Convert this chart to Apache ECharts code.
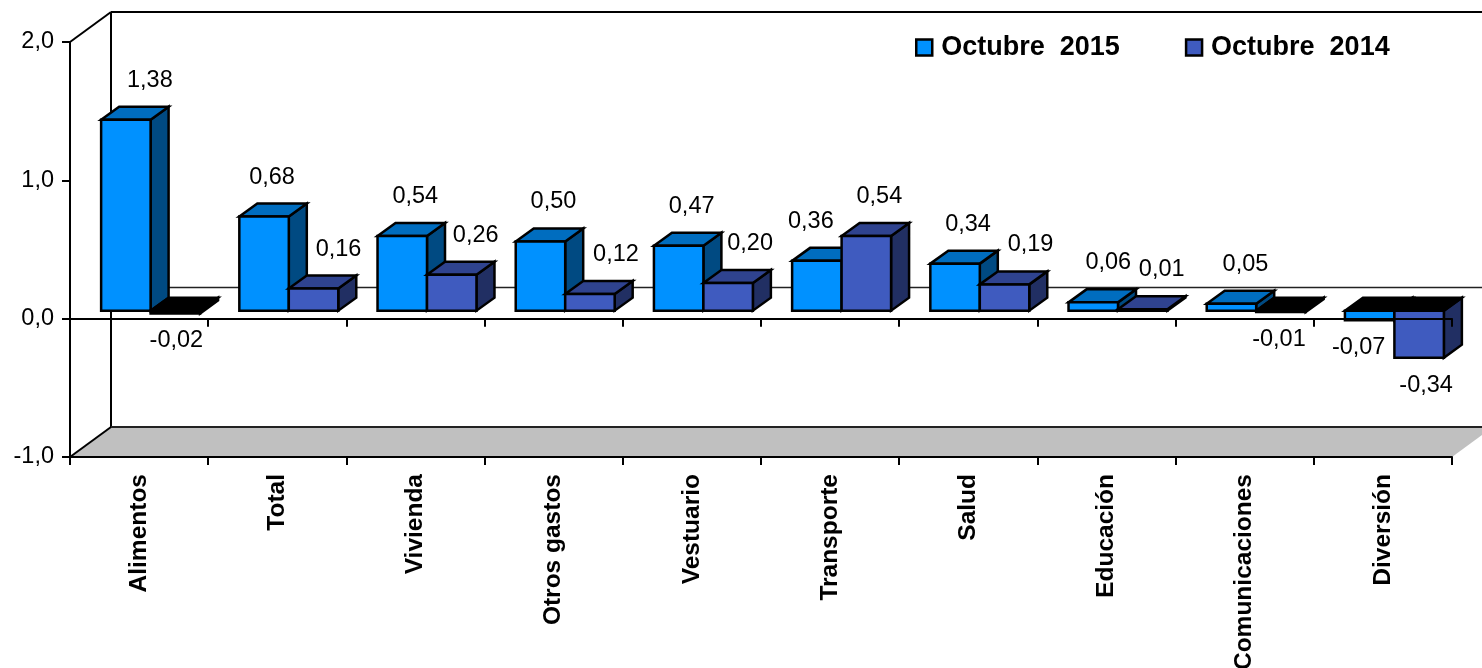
<!DOCTYPE html>
<html>
<head>
<meta charset="utf-8">
<style>html,body{margin:0;padding:0;background:#fff}#c{width:1482px;height:668px}</style>
<script src="https://cdn.jsdelivr.net/npm/echarts@6/dist/echarts.min.js"></script>
</head>
<body>
<div id="c"></div>
<script>
const categories = ['Alimentos','Total','Vivienda','Otros gastos','Vestuario','Transporte','Salud','Educación','Comunicaciones','Diversión'];
const octubre2015 = [1.38,0.68,0.54,0.50,0.47,0.36,0.34,0.06,0.05,-0.07];
const octubre2014 = [-0.02,0.16,0.26,0.12,0.20,0.54,0.19,0.01,-0.01,-0.34];
const seriesNames = ['Octubre  2015','Octubre  2014'];
// hand-placed data label nudges (px from bar centre), as in the original
const labelNudge2015 = [25,9,14,14,14,-5,14,16,15,-10];
const labelNudge2014 = [1,25,24,26,22,13,26,19,-2,7];

const FONT = '"Liberation Sans", Arial, sans-serif';
const WALL = {dx:41, dy:-30};
const BAR_SPLIT = 11.5, BAR_LIFT = -8;
const BAR_DEPTH = {dx:18, dy:-13};
const STROKE = {stroke:'#000', lineWidth:2.5, lineJoin:'miter'};
const COL2015 = {front:'#0091FF', top:'#006DBF', side:'#004A82'};
const COL2014 = {front:'#3F5BBF', top:'#2F438F', side:'#212F63'};

const poly = (pts, fill) => ({type:'polygon', shape:{points:pts}, style:Object.assign({fill}, STROKE), silent:true});
const line = (x1,y1,x2,y2,stroke,lineWidth) => ({type:'line', shape:{x1,y1,x2,y2}, style:{stroke,lineWidth}, silent:true});

function barRenderer(side, colors, nudges) {
  return function (params, api) {
    const i = api.value(0), v = api.value(1);
    const base = api.coord([i, 0]), tip = api.coord([i, v]);
    const band = api.size([1, 0])[0];
    const w = band * (side < 0 ? 0.358 : 0.358);
    const xl = base[0] + BAR_SPLIT + (side < 0 ? -w : 0);
    const xr = xl + w;
    const y0 = base[1] + BAR_LIFT, yv = tip[1] + BAR_LIFT;
    const d = BAR_DEPTH;
    const yTop = Math.min(y0, yv), yBot = Math.max(y0, yv);
    const thin = yBot - yTop < 4;
    const topFill = v < 0 ? '#000' : colors.top;
    const kids = [
      poly([[xr,yTop],[xr+d.dx,yTop+d.dy],[xr+d.dx,yBot+d.dy],[xr,yBot]], thin && v < 0 ? '#000' : colors.side),
      poly([[xl,yTop],[xl+d.dx,yTop+d.dy],[xr+d.dx,yTop+d.dy],[xr,yTop]], topFill),
      poly([[xl,yTop],[xr,yTop],[xr,yBot],[xl,yBot]], thin ? '#000' : colors.front),
      {type:'text', silent:true, style:{
        text: v.toFixed(2).replace('.', ','),
        x: (xl+xr)/2 + nudges[i] - (side < 0 ? 1 : 0),
        y: v < 0 ? yBot + 27.5 : yTop - 39.5,
        fill:'#000', font:'23.5px ' + FONT, textAlign:'center', textVerticalAlign:'middle'
      }}
    ];
    return {type:'group', children:kids};
  };
}

function frameRenderer(params, api) {
  const cs = params.coordSys;
  const left = cs.x, right = cs.x + cs.width;
  const yTop = api.coord([0, 2])[1], yBot = api.coord([0, -1])[1], yZero = api.coord([0, 0])[1];
  const dx = WALL.dx, dy = WALL.dy;
  return {type:'group', children:[
    {type:'polygon', silent:true, shape:{points:[[left,yBot],[left+dx,yBot+dy],[right+dx,yBot+dy],[right,yBot]]}, style:{fill:'#C0C0C0'}},
    line(left,yTop,left+dx,yTop+dy,'#000',2),
    line(left,yBot,left+dx,yBot+dy,'#000',2),
    line(left+dx,yTop+dy,left+dx,yBot+dy,'#000',2),
    line(left+dx,yTop+dy,right+dx,yTop+dy,'#000',2),
    line(left+dx,yBot+dy,right+dx,yBot+dy,'#222',2),
    line(left+dx,Math.round(yZero+dy)-1.5,right+dx,Math.round(yZero+dy)-1.5,'#222',1.5)
  ]};
}

const chart = echarts.init(document.getElementById('c'), null, {renderer:'canvas'});
const axisLine = {lineStyle:{color:'#000', width:2}};
chart.setOption({
  animation:false,
  backgroundColor:'#fff',
  grid:{left:70, right:30, top:42, bottom:211, containLabel:false, outerBoundsMode:'none'},
  legend:{
    left:910, top:29, itemWidth:16, itemHeight:16, itemGap:65, icon:'rect', selectedMode:false,
    data:seriesNames,
    itemStyle:{borderColor:'#000', borderWidth:2.5},
    textStyle:{fontFamily:FONT, fontSize:27, fontWeight:'bold', color:'#000', padding:[0,0,0,4]}
  },
  xAxis:[
    {type:'category', data:categories, position:'bottom', z:10,
     axisLine:Object.assign({onZero:false}, axisLine),
     axisTick:{show:true, length:8, lineStyle:{color:'#000', width:2}},
     axisLabel:{interval:0, rotate:90, margin:17, fontFamily:FONT, fontSize:24.5, fontWeight:'bold', color:'#000'}},
    {type:'category', data:categories, position:'bottom', z:10,
     axisLine:Object.assign({onZero:true}, axisLine),
     axisTick:{show:true, length:8, lineStyle:{color:'#000', width:2}},
     axisLabel:{show:false}}
  ],
  yAxis:{type:'value', min:-1, max:2, interval:1, z:10,
    axisLine:Object.assign({show:true}, axisLine),
    axisTick:{show:true, length:8, lineStyle:{color:'#000', width:2}},
    splitLine:{show:false},
    axisLabel:{margin:16, padding:[4,0,0,0], fontFamily:FONT, fontSize:23.5, color:'#000', formatter:v => v.toFixed(1).replace('.', ',')}
  },
  series:[
    {type:'custom', name:'frame', z:1, silent:true, clip:false, renderItem:frameRenderer, data:[[0,0]], encode:{x:0,y:1}},
    {type:'custom', name:seriesNames[0], z:3, clip:false,
     itemStyle:{color:COL2015.front, borderColor:'#000', borderWidth:2},
     renderItem:barRenderer(-1, COL2015, labelNudge2015), encode:{x:0,y:1},
     data:octubre2015.map((v,i)=>[i,v])},
    {type:'custom', name:seriesNames[1], z:4, clip:false,
     itemStyle:{color:COL2014.front, borderColor:'#000', borderWidth:2},
     renderItem:barRenderer(1, COL2014, labelNudge2014), encode:{x:0,y:1},
     data:octubre2014.map((v,i)=>[i,v])}
  ]
});
</script>
</body>
</html>
